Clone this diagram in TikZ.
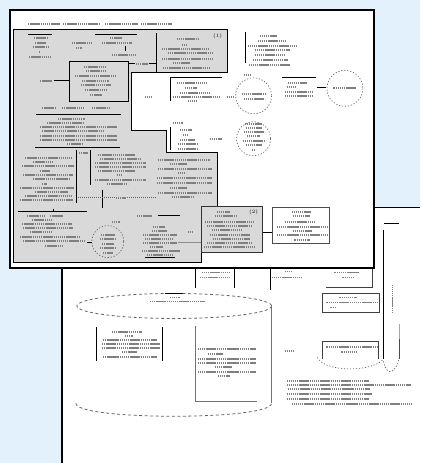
\documentclass[tikz,border=0pt]{standalone}
\definecolor{deskblue}{RGB}{226,241,252}
\definecolor{panelgray}{RGB}{217,217,217}
\tikzset{
  txt/.style={black!50,line width=1.9pt,dash pattern=on 1.5pt off 0.6pt},
  rule/.style={black,line width=0.8pt},
  ring/.style={black!65,line width=0.6pt,dash pattern=on 1.2pt off 1.8pt},
  tube/.style={black!60,line width=0.8pt,dash pattern=on 3pt off 2.5pt},
  tag/.style={font=\fontsize{5}{5}\selectfont,inner sep=0pt},
}
\begin{document}
\begin{tikzpicture}[x=1pt,y=-1pt]
  \fill[deskblue] (0,0) rectangle (421,464);
  % sheet behind
  \fill[white] (62,208) rectangle (421,464);
  \draw[line width=1.6pt] (62,464)--(62,208)--(421,208);
  \draw[rule] (196,268)--(196,288) (235,268)--(235,288) (271,268)--(271,290);
  \draw[black!75,line width=0.9pt] (327,288)--(373,288)--(373,268);
  \draw[black!75,line width=0.9pt] (323,294) rectangle (380,313);
  \draw[black!75,line width=0.9pt] (323,360)--(323,342)--(379,342)--(379,360);
  \draw[ring] (318,358) .. controls (325,373) and (372,373) .. (384,360);
  \draw[ring] (384,362) .. controls (388,379) and (397,373) .. (400,358);
  \draw[line width=1.5pt] (384,230)--(384,360);
  \draw[rule] (385,224)--(400,224);
  \draw[black!35,line width=1.5pt] (400,325)--(400,340);
  \draw[black!70,line width=1.5pt] (400,340)--(400,360);
  \draw[txt,line width=1.5pt] (393,285)--(393,313);
  % cylinder
  \draw[tube] (174.5,306.5) ellipse [x radius=97.5,y radius=12.5];
  \draw[tube] (76,404) .. controls (76,421.3) and (272,421.3) .. (272,404);
  \draw[black!55,line width=1pt] (272,306)--(272,404);
  \draw[rule] (165,294)--(183,294);
  \draw[rule] (97,328)--(97,362) (163,328)--(163,362);
  \draw[black!55,line width=1.2pt] (196,327)--(196,402)--(257,402);
  \foreach \xa/\xb/\yy in {202/230/273,200/230/278,285/293/272,272/303/278,
      335/360/273,343/355/278,340/357/298,327/378/303,331/336/308,327/378/348,342/357/353,
      170/180/298,150/205/302,
      112/142/333,125/133/337,103/157/341,102/160/345,102/160/349,122/137/353,103/157/358,
      198/256/350,208/223/355,198/256/360,198/256/364,215/232/368,198/256/373,218/230/377,
      285/295/352,
      287/370/382,287/412/386,288/370/390,287/373/395,287/370/400,292/413/405}
    \draw[txt] (\xa,\yy)--(\xb,\yy);
  % front sheet
  \fill[white] (10,10) rectangle (375,268);
  \filldraw[fill=panelgray,draw=black,line width=0.9pt] (13,30)--(228,30)--(228,73)--(132,73)--(132,131)--(167,131)
    --(167,153)--(218,153)--(218,207)--(202,207)--(202,263)--(13,263)--cycle;
  \draw[line width=2pt] (10,10) rectangle (375,268);
  \draw[rule] (28,34)--(52,34) (95,34)--(137,34) (126,46)--(126,51) (157,33)--(157,72);
  \draw[rule] (128,64)--(135,64) (149,64)--(157,64);
  \draw[rule] (70,62) rectangle (129,102);
  \draw[rule] (54,81)--(70,81);
  \draw[line width=1.2pt] (36,115)--(121,115) (35,148)--(120,148);
  \draw[rule] (77,150)--(77,203) (91,150)--(91,185) (103,190)--(103,208);
  \draw[black!60,line width=0.8pt,dash pattern=on 1pt off 1pt] (78,198)--(115,198) (127,198)--(157,198);
  \draw[line width=1.2pt] (18,212)--(87,212);
  \draw[rule] (53,209)--(53,212) (87,243)--(92,243) (158,216)--(180,216) (145,258)--(175,258);
  \draw[black!45,line width=0.8pt] (178,243)--(202,243);
  \filldraw[fill=panelgray,draw=black!80,line width=0.9pt] (202,207) rectangle (263,253);
  \draw[rule] (263,233)--(273,233);
  \draw[black!70,line width=0.9pt] (273,208) rectangle (330,244);
  \draw[rule] (246,32)--(246,63) (282,78)--(317,78) (318,88)--(327,88);
  \draw[rule] (171,101)--(171,78)--(222,78) (171,127)--(171,150);
  \draw[ring] (108,242) circle [radius=16];
  \draw[ring] (254,96) circle [radius=18];
  \draw[ring] (345.5,88.5) circle [radius=18];
  \draw[ring] (254,139) circle [radius=17];
  \node[tag] (one) at (218,36) {(1)};
  \node[tag] (two) at (254,213) {(2)};
  \foreach \xa/\xb/\yy in {28/60/24,63/100/24,105/138/24,141/172/24,
      34/47/38,35/46/43,33/48/47,39/41/52,29/51/57,72/92/43,76/82/48,110/122/38,102/132/43,
      112/137/55,136/148/64,
      177/200/39,182/188/45,162/210/49,168/213/53,162/213/59,173/190/63,163/210/68,
      84/107/67,86/106/71,75/115/76,82/109/81,81/111/85,85/107/90,90/102/95,
      40/52/81,42/55/108,62/85/108,92/110/108,
      58/85/119,47/83/123,40/117/127,42/103/131,40/117/136,40/117/140,67/83/144,
      25/72/158,33/52/162,22/74/166,40/50/171,23/73/175,33/70/179,42/47/184,20/74/188,35/68/192,25/72/196,20/73/200,
      79/88/153,98/135/155,100/140/159,95/146/163,95/146/167,98/135/171,117/123/175,95/146/180,107/128/184,
      158/210/160,170/187/164,158/212/169,178/185/173,157/212/178,157/212/183,170/187/188,158/212/193,172/195/197,
      116/126/198,
      27/45/216,50/63/216,32/53/220,22/72/224,23/73/228,30/53/232,20/80/237,23/85/241,45/63/246,
      112/120/222,101/115/235,100/116/239,102/114/244,100/116/248,103/113/253,
      137/152/216,153/165/227,152/167/231,143/177/235,145/173/239,143/177/243,150/163/247,142/180/251,147/173/255,
      188/194/232,
      217/230/212,215/237/216,205/255/222,207/253/226,212/243/230,210/250/235,213/250/239,207/253/243,204/255/247,
      292/312/212,293/310/216,285/315/222,277/328/227,293/312/231,277/328/235,295/310/240,
      260/277/36,258/287/41,248/297/46,255/290/50,255/285/55,253/288/60,249/290/65,
      244/252/75,242/267/94,244/265/99,227/234/97,
      288/307/83,287/297/87,285/313/92,285/313/96,334/357/88,
      245/262/124,246/262/128,244/265/132,247/260/136,243/265/141,246/262/145,252/256/150,210/222/139,
      145/152/97,177/207/83,185/197/88,180/210/93,173/220/97,188/197/101,
      173/183/123,180/192/130,183/188/135,180/195/140,178/197/144,178/198/149}
    \draw[txt] (\xa,\yy)--(\xb,\yy);
\end{tikzpicture}
\end{document}
